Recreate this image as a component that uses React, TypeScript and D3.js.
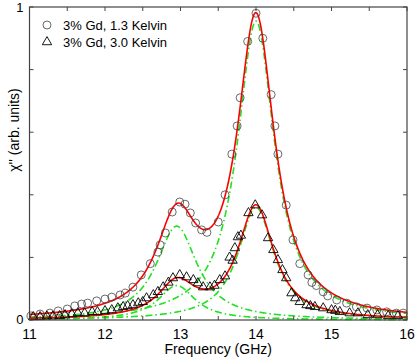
import React, { useEffect, useRef } from "react";
import * as d3 from "d3";

// 3% Gd, 1.3 Kelvin (circles)
const freq1 = [11.02, 11.14, 11.27, 11.38, 11.5, 11.6, 11.69, 11.77, 11.89, 12.0, 12.09, 12.2, 12.27, 12.37, 12.48, 12.6, 12.7, 12.73, 12.8, 12.89, 12.99, 13.06, 13.13, 13.2, 13.28, 13.35, 13.5, 13.59, 13.68, 13.75, 13.79, 13.89, 14.0, 14.09, 14.2, 14.25, 14.29, 14.4, 14.49, 14.58, 14.69, 14.74, 14.8, 14.89, 14.95, 15.07, 15.2, 15.33, 15.47, 15.6, 15.73, 15.86, 15.95];
const chi1 = [0.013, 0.019, 0.022, 0.029, 0.035, 0.045, 0.051, 0.054, 0.061, 0.067, 0.073, 0.08, 0.086, 0.105, 0.144, 0.18, 0.217, 0.24, 0.278, 0.345, 0.377, 0.37, 0.342, 0.31, 0.288, 0.28, 0.313, 0.4, 0.53, 0.62, 0.71, 0.89, 0.98, 0.9, 0.72, 0.62, 0.53, 0.367, 0.256, 0.18, 0.144, 0.12, 0.11, 0.09, 0.077, 0.064, 0.054, 0.042, 0.038, 0.032, 0.026, 0.022, 0.022];

// 3% Gd, 3.0 Kelvin (triangles)
const freq2 = [11.05, 11.14, 11.23, 11.31, 11.4, 11.47, 11.56, 11.64, 11.73, 11.83, 11.9, 12.0, 12.09, 12.17, 12.24, 12.3, 12.37, 12.44, 12.5, 12.55, 12.64, 12.7, 12.77, 12.84, 12.9, 12.99, 13.08, 13.17, 13.23, 13.3, 13.39, 13.45, 13.52, 13.59, 13.65, 13.69, 13.72, 13.76, 13.8, 13.9, 13.99, 14.08, 14.16, 14.23, 14.29, 14.35, 14.4, 14.47, 14.52, 14.58, 14.67, 14.72, 14.78, 14.89, 15.0, 15.05, 15.11, 15.24, 15.35, 15.48, 15.61, 15.75, 15.88];
const chi2 = [0.01, 0.01, 0.012, 0.012, 0.013, 0.016, 0.019, 0.022, 0.022, 0.026, 0.026, 0.029, 0.032, 0.038, 0.042, 0.045, 0.048, 0.054, 0.058, 0.07, 0.08, 0.09, 0.105, 0.12, 0.134, 0.144, 0.137, 0.128, 0.118, 0.105, 0.105, 0.11, 0.128, 0.14, 0.2, 0.19, 0.23, 0.265, 0.27, 0.342, 0.367, 0.335, 0.262, 0.224, 0.192, 0.16, 0.134, 0.086, 0.07, 0.058, 0.048, 0.045, 0.042, 0.038, 0.032, 0.03, 0.026, 0.022, 0.022, 0.016, 0.016, 0.013, 0.013];

// Lorentzian fit components (center, height, half width)
const fitCenters1 = [12.95, 14.0];
const fitHeights1 = [0.3, 0.955];
const fitWidths1 = [0.33, 0.3];
const fitCenters2 = [12.95, 14.0];
const fitHeights2 = [0.11, 0.36];
const fitWidths2 = [0.3, 0.29];

const legendLabels = ["3% Gd, 1.3 Kelvin", "3% Gd, 3.0 Kelvin"];
const xTickLabels = [11, 12, 13, 14, 15, 16];
const yTickLabels = [0, 1];

function lorentz(f: number, c: number, h: number, w: number) {
  return h / (1 + ((f - c) / w) ** 2);
}

export default function App() {
  const svgRef = useRef<SVGSVGElement>(null);

  useEffect(() => {
    const W = 415;
    const H = 359;
    const m = { left: 29.5, right: 8, top: 7, bottom: 39 };
    const svg = d3.select(svgRef.current).attr("width", W).attr("height", H);
    svg.selectAll("*").remove();

    const x = d3.scaleLinear().domain([11, 16]).range([m.left, W - m.right]);
    const y = d3.scaleLinear().domain([0, 1]).range([H - m.bottom, m.top]);
    const font = "'Liberation Sans', Arial, sans-serif";

    const grid = d3.range(11, 16.0001, 0.01);
    const green = "#22e022";
    const dash = "7,3,1.5,3";

    const drawCurve = (fn: (f: number) => number, color: string, dashed: boolean) => {
      const l = d3
        .line<number>()
        .x((f) => x(f))
        .y((f) => y(fn(f)));
      svg
        .append("path")
        .attr("d", l(grid))
        .attr("fill", "none")
        .attr("stroke", color)
        .attr("stroke-width", 1.6)
        .attr("stroke-dasharray", dashed ? dash : null);
    };

    const fits = [
      [fitCenters1, fitHeights1, fitWidths1],
      [fitCenters2, fitHeights2, fitWidths2],
    ];

    // green components
    fits.forEach(([cs, hs, ws]) => {
      cs.forEach((c, k) => drawCurve((f) => lorentz(f, c, hs[k], ws[k]), green, true));
    });
    // red sums
    fits.forEach(([cs, hs, ws]) => {
      drawCurve((f) => d3.sum(cs, (c, k) => lorentz(f, c, hs[k], ws[k])), "#ff0000", false);
    });

    // data markers
    svg
      .append("g")
      .selectAll("circle")
      .data(freq1)
      .join("circle")
      .attr("cx", (f) => x(f))
      .attr("cy", (f, i) => y(chi1[i]))
      .attr("r", 4)
      .attr("fill", "none")
      .attr("stroke", "#444")
      .attr("stroke-width", 0.8);

    const tri = d3.symbol(d3.symbolTriangle, 38);
    svg
      .append("g")
      .selectAll("path")
      .data(freq2)
      .join("path")
      .attr("d", tri)
      .attr("transform", (f, i) => `translate(${x(f)},${y(chi2[i])})`)
      .attr("fill", "none")
      .attr("stroke", "#000")
      .attr("stroke-width", 0.9);

    // frame
    const axisColor = "#444";
    svg
      .append("rect")
      .attr("x", x(11))
      .attr("y", y(1))
      .attr("width", x(16) - x(11))
      .attr("height", y(0) - y(1))
      .attr("fill", "none")
      .attr("stroke", axisColor)
      .attr("stroke-width", 1.2);

    const tl = 4;
    const xt = d3.range(11, 16.001, 0.5);
    const yt = d3.range(0, 1.0001, 0.2);
    const ticks = svg.append("g").attr("stroke", axisColor).attr("stroke-width", 1);
    xt.forEach((t) => {
      ticks.append("line").attr("x1", x(t)).attr("x2", x(t)).attr("y1", y(0)).attr("y2", y(0) - tl);
      ticks.append("line").attr("x1", x(t)).attr("x2", x(t)).attr("y1", y(1)).attr("y2", y(1) + tl);
    });
    yt.forEach((t) => {
      ticks.append("line").attr("x1", x(11)).attr("x2", x(11) + tl).attr("y1", y(t)).attr("y2", y(t));
      ticks.append("line").attr("x1", x(16)).attr("x2", x(16) - tl).attr("y1", y(t)).attr("y2", y(t));
    });

    // tick labels
    svg
      .append("g")
      .selectAll("text")
      .data(xTickLabels)
      .join("text")
      .attr("x", (d) => x(d))
      .attr("y", y(0) + 19)
      .attr("text-anchor", "middle")
      .attr("font-family", font)
      .attr("font-size", 14)
      .text((d) => d);

    svg
      .append("g")
      .selectAll("text")
      .data(yTickLabels)
      .join("text")
      .attr("x", x(11) - 6)
      .attr("y", (d) => (d === 1 ? 12 : y(d) + 4))
      .attr("text-anchor", "end")
      .attr("font-family", font)
      .attr("font-size", 13)
      .text((d) => d);

    // axis titles
    svg
      .append("text")
      .attr("x", (x(11) + x(16)) / 2)
      .attr("y", H - 5)
      .attr("text-anchor", "middle")
      .attr("font-family", font)
      .attr("font-size", 14)
      .text("Frequency (GHz)");

    svg
      .append("text")
      .attr("transform", `translate(19,130) rotate(-90)`)
      .attr("text-anchor", "middle")
      .attr("font-family", font)
      .attr("font-size", 14)
      .text("χ'' (arb. units)");

    // legend
    const lg = svg.append("g").attr("font-family", font).attr("font-size", 13);
    lg.append("circle").attr("cx", 47).attr("cy", 25).attr("r", 4).attr("fill", "none").attr("stroke", "#444").attr("stroke-width", 0.8);
    lg.append("path").attr("d", tri).attr("transform", "translate(47,42)").attr("fill", "none").attr("stroke", "#000").attr("stroke-width", 0.9);
    legendLabels.forEach((t, i) => {
      lg.append("text").attr("x", 63).attr("y", 29.5 + i * 17).text(t);
    });
  }, []);

  return (
    <div style={{ position: "absolute", left: 0, top: 0 }}>
      <svg ref={svgRef}></svg>
    </div>
  );
}
